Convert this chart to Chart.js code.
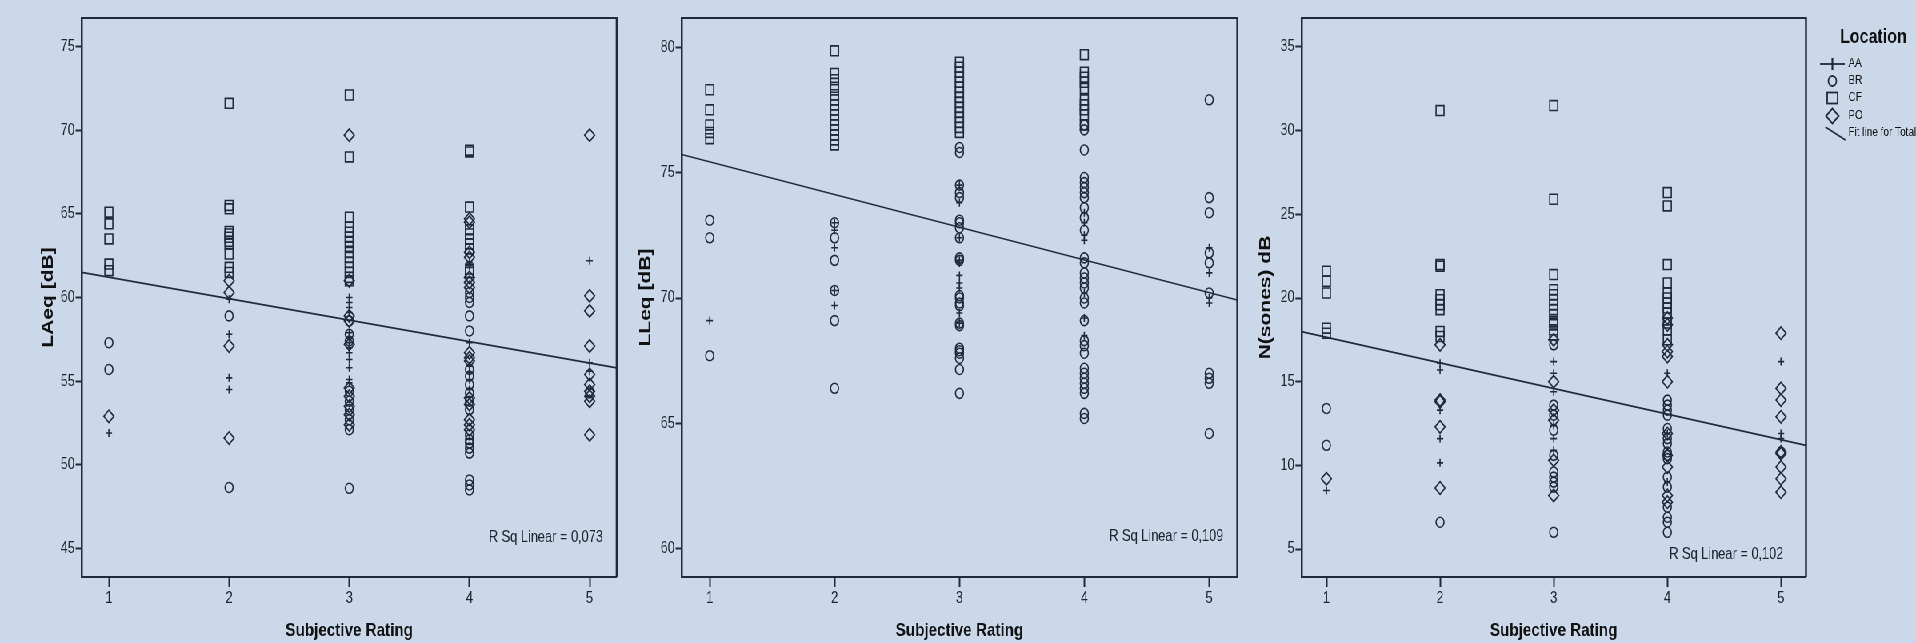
<!DOCTYPE html>
<html>
<head>
<meta charset="utf-8">
<title>Subjective Rating - LAeq / LLeq / N(sones)</title>
<script src="https://cdn.jsdelivr.net/npm/chart.js@4.4.1/dist/chart.umd.min.js"></script>
<style>
    html, body { margin: 0; padding: 0; overflow: hidden; width: 1916px; height: 643px; background: #cad8e9; }
    #wrap { position: absolute; left: 0; top: 0; width: 2395px; height: 643px; transform: scaleX(0.8); transform-origin: 0 0; }
    #wrap canvas { position: absolute; top: 0; }
</style>
</head>
<body>
<div id="wrap">
    <canvas id="chartLAeq"></canvas>
    <canvas id="chartLLeq"></canvas>
    <canvas id="chartN"></canvas>
</div>
<script>
// categories
var ratings = [1, 2, 3, 4, 5];
var locations = ['AA', 'BR', 'CF', 'PO'];

// LAeq [dB] - one list of values per rating (1..5)
var laeqAA = [[51.9], [59.9, 57.8, 55.2, 54.5], [60.0, 59.7, 59.4, 59.1, 57.9, 57.6, 57.3, 57.0, 56.7, 56.3, 55.8, 55.1, 54.9], [62.1, 61.9, 57.3, 55.9, 55.5, 55.1, 54.5], [62.2, 56.1, 55.6]];
var laeqBR = [[57.3, 55.7], [58.9, 48.65], [58.6, 57.8, 57.4, 54.4, 53.8, 53.3, 52.7, 52.1, 48.6], [60.3, 60.0, 59.7, 58.9, 58.0, 55.7, 55.3, 54.8, 54.3, 53.8, 53.3, 51.8, 51.5, 51.3, 51.0, 50.7, 49.1, 48.8, 48.5], [54.3]];
var laeqCF = [[65.1, 64.4, 63.5, 62.0, 61.6], [71.6, 65.5, 65.3, 63.95, 63.8, 63.6, 63.35, 63.2, 62.6, 61.8, 61.5], [72.1, 68.4, 64.8, 64.2, 63.9, 63.6, 63.35, 63.05, 62.7, 62.4, 62.1, 61.8, 61.5, 61.2, 61.0], [68.8, 68.7, 65.4, 64.05, 63.8, 63.5, 63.2, 62.9, 61.7, 61.5], []];
var laeqPO = [[52.9], [61.0, 60.3, 57.1, 51.6], [69.7, 61.0, 58.9, 58.6, 57.2, 54.6, 54.1, 53.5, 53.0, 52.4], [64.7, 64.5, 62.7, 62.4, 61.2, 60.9, 60.6, 56.7, 56.4, 56.2, 54.0, 53.6, 52.7, 52.4, 52.1], [69.7, 60.1, 59.2, 57.1, 55.4, 54.8, 54.4, 54.1, 53.8, 51.8]];
var laeqFit = [[0.773, 61.5], [5.225, 55.8]];
var laeqTicks = [45, 50, 55, 60, 65, 70, 75];

// LLeq [dB]
var lleqAA = [[69.1], [73.0, 72.7, 72.0, 70.3, 69.7], [74.5, 73.8, 72.4, 71.5, 71.4, 70.9, 70.6, 70.4, 69.4, 69.0], [73.4, 73.0, 72.5, 72.3, 70.2, 69.2, 68.5], [72.0, 71.0, 70.0, 69.8]];
var lleqBR = [[73.1, 72.4, 67.7], [73.0, 72.4, 71.5, 70.3, 69.1, 66.4], [76.0, 75.8, 74.5, 74.2, 74.0, 73.1, 73.0, 72.8, 72.4, 71.6, 71.5, 70.1, 70.0, 69.8, 69.7, 69.0, 68.9, 68.0, 67.9, 67.8, 67.6, 67.15, 66.2], [76.9, 76.7, 75.9, 74.8, 74.6, 74.4, 74.2, 74.0, 73.6, 73.2, 72.7, 71.6, 71.4, 71.0, 70.8, 70.6, 70.4, 70.0, 69.8, 69.1, 68.3, 68.1, 67.8, 67.2, 67.0, 66.8, 66.6, 66.4, 66.2, 65.4, 65.2], [77.9, 74.0, 73.4, 71.8, 71.4, 70.2, 67.0, 66.8, 66.6, 64.6]];
var lleqCF = [[78.3, 77.5, 76.9, 76.6, 76.35], [79.85, 78.95, 78.7, 78.4, 78.1, 77.9, 77.7, 77.5, 77.3, 77.1, 76.9, 76.7, 76.5, 76.3, 76.1], [79.4, 79.2, 79.0, 78.8, 78.6, 78.4, 78.2, 78.0, 77.8, 77.6, 77.4, 77.2, 77.0, 76.8, 76.6], [79.7, 79.0, 78.8, 78.6, 78.35, 77.9, 77.7, 77.5, 77.3, 76.9], []];
var lleqPO = [[], [], [], [], []];
var lleqFit = [[0.775, 75.72], [5.225, 69.92]];
var lleqTicks = [60, 65, 70, 75, 80];

// N(sones) dB
var nAA = [[8.5], [16.1, 15.7, 13.3, 11.6, 10.15], [16.2, 15.5, 14.4, 12.4, 11.6, 10.9], [15.5, 11.9, 9.0], [16.2, 11.9, 11.6]];
var nBR = [[13.4, 11.2], [6.6], [17.2, 13.6, 13.0, 12.1, 10.6, 9.6, 9.3, 9.0, 8.7, 6.0], [13.9, 13.6, 13.3, 13.0, 12.2, 11.6, 11.3, 10.8, 10.6, 10.4, 9.3, 8.7, 7.5, 6.9, 6.6, 6.0], [10.8]];
var nCF = [[21.6, 21.0, 20.3, 18.2, 17.9], [31.2, 22.0, 21.9, 20.2, 19.9, 19.6, 19.3, 18.0, 17.7], [31.5, 25.9, 21.4, 20.5, 20.2, 19.9, 19.6, 19.3, 19.0, 18.6, 18.5, 18.1, 17.8], [26.3, 25.5, 22.0, 20.9, 20.3, 20.0, 19.7, 19.4, 19.1, 18.5, 18.1, 17.5], []];
var nPO = [[9.2], [17.2, 13.9, 13.8, 12.3, 8.65], [17.5, 15.0, 13.3, 12.7, 10.3, 8.2], [18.8, 18.4, 17.2, 16.8, 16.5, 15.0, 11.9, 10.6, 9.9, 8.2, 7.8], [17.9, 14.6, 13.9, 12.9, 10.8, 10.7, 9.9, 9.2, 8.4]];
var nFit = [[0.78, 17.99], [5.22, 11.19]];
var nTicks = [5, 10, 15, 20, 25, 30, 35];

// the original export is squeezed horizontally, so the page is too
var SX = 0.8;
var PAGE_H = 643;
var PLOT_TOP = 18;
var PLOT_BOTTOM = 577;
var AXIS = '#1f2b3b';
var TXT = '#1e2530';
var FONT = "'Liberation Sans', Arial, Helvetica, sans-serif";

Chart.defaults.font.family = FONT;

var markers = [
    { style: 'cross', r: 4 },
    { style: 'circle', r: 5 },
    { style: 'rect', r: 7 },
    { style: 'rectRot', r: 6.3 }
];

function toPoints(values) {
    var pts = [];
    values.forEach(function (vals, i) {
        vals.forEach(function (v) {
            pts.push({ x: ratings[i], y: v });
        });
    });
    return pts;
}

function drawLegend(ctx, geo) {
    var cx = function (sx) { return (sx - geo.left) / SX; };
    var sym = cx(1832);
    var tx = cx(1848);
    var rows = [64, 81, 98, 116, 133];

    ctx.fillStyle = '#111';
    ctx.font = 'bold 20px ' + FONT;
    ctx.textAlign = 'center';
    ctx.textBaseline = 'middle';
    ctx.fillText('Location', cx(1873), 37);

    ctx.strokeStyle = AXIS;
    ctx.lineWidth = 1.8;
    // AA
    ctx.beginPath();
    ctx.moveTo(sym - 15.5, rows[0]); ctx.lineTo(sym + 15.5, rows[0]);
    ctx.stroke();
    ctx.lineWidth = 2.2;
    ctx.beginPath();
    ctx.moveTo(sym, rows[0] - 6); ctx.lineTo(sym, rows[0] + 6);
    ctx.stroke();
    ctx.lineWidth = 1.8;
    // BR
    ctx.beginPath();
    ctx.ellipse(sym, rows[1], 5, 5, 0, 0, Math.PI * 2);
    ctx.stroke();
    // CF
    ctx.strokeRect(sym - 6.5, rows[2] - 5.5, 13, 11);
    // PO
    ctx.beginPath();
    ctx.moveTo(sym - 8, rows[3]); ctx.lineTo(sym, rows[3] - 7.5);
    ctx.lineTo(sym + 8, rows[3]); ctx.lineTo(sym, rows[3] + 7.5);
    ctx.closePath();
    ctx.stroke();
    // fit line
    ctx.beginPath();
    ctx.moveTo(cx(1825), 127); ctx.lineTo(cx(1845), 140);
    ctx.stroke();

    ctx.font = '12.5px ' + FONT;
    ctx.textAlign = 'left';
    var names = locations.concat(['Fit line for Total']);
    names.forEach(function (name, i) {
        ctx.fillText(name, tx, rows[i]);
    });
}

function makePanel(canvasId, geo, yTitle, series, fit, ticks, yRange, rsq, withLegend) {
    var canvas = document.getElementById(canvasId);
    canvas.width = Math.round(geo.width / SX);
    canvas.height = PAGE_H;
    canvas.style.left = (geo.left / SX) + 'px';

    var datasets = [];
    series.forEach(function (values, i) {
        datasets.push({
            type: 'scatter',
            label: locations[i],
            data: toPoints(values),
            pointStyle: markers[i].style,
            pointRadius: markers[i].r,
            pointHoverRadius: markers[i].r,
            pointBackgroundColor: 'rgba(0,0,0,0)',
            pointBorderColor: AXIS,
            pointBorderWidth: 1.6
        });
    });
    datasets.push({
        type: 'line',
        label: 'Fit line for Total',
        data: fit.map(function (p) { return { x: p[0], y: p[1] }; }),
        borderColor: AXIS,
        borderWidth: 1.7,
        pointRadius: 0,
        fill: false
    });

    var framePlugin = {
        id: 'frame' + canvasId,
        afterDraw: function (chart) {
            var ctx = chart.ctx;
            var a = chart.chartArea;
            ctx.save();
            ctx.strokeStyle = AXIS;
            ctx.lineWidth = 2;
            ctx.beginPath();
            ctx.moveTo(a.left, a.top); ctx.lineTo(a.right, a.top);
            ctx.stroke();
            ctx.lineWidth = 2.5;
            ctx.beginPath();
            ctx.moveTo(a.right, a.top - 1); ctx.lineTo(a.right, a.bottom);
            ctx.stroke();

            ctx.fillStyle = TXT;
            ctx.font = '16px ' + FONT;
            ctx.textAlign = 'right';
            ctx.textBaseline = 'middle';
            ctx.fillText(rsq, (geo.rsqX - geo.left) / SX, geo.rsqY);

            if (withLegend) drawLegend(ctx, geo);
            ctx.restore();
        }
    };

    return new Chart(canvas.getContext('2d'), {
        type: 'scatter',
        data: { datasets: datasets },
        plugins: [framePlugin],
        options: {
            responsive: false,
            animation: false,
            events: [],
            layout: {
                padding: { left: 0, top: PLOT_TOP, bottom: 0, right: (geo.left + geo.width - geo.plotRight) / SX }
            },
            plugins: {
                legend: { display: false },
                tooltip: { enabled: false }
            },
            scales: {
                x: {
                    type: 'linear',
                    min: geo.xMin,
                    max: geo.xMax,
                    afterBuildTicks: function (scale) {
                        scale.ticks = ratings.map(function (v) { return { value: v }; });
                    },
                    afterFit: function (scale) { scale.height = PAGE_H - PLOT_BOTTOM; },
                    grid: { drawOnChartArea: false, drawTicks: true, tickLength: 10, tickWidth: 2, tickColor: AXIS },
                    border: { display: true, color: AXIS, width: 2 },
                    ticks: { padding: 2.4, color: TXT, font: { size: 16 } },
                    title: {
                        display: true,
                        text: 'Subjective Rating',
                        color: '#111',
                        font: { size: 19, weight: 'bold' },
                        padding: { top: 0, bottom: 0.6 }
                    }
                },
                y: {
                    type: 'linear',
                    min: yRange[0],
                    max: yRange[1],
                    afterBuildTicks: function (scale) {
                        scale.ticks = ticks.map(function (v) { return { value: v }; });
                    },
                    afterFit: function (scale) { scale.width = (geo.plotLeft - geo.left) / SX; },
                    grid: { drawOnChartArea: false, drawTicks: true, tickLength: 6 / SX, tickWidth: 2, tickColor: AXIS },
                    border: { display: true, color: AXIS, width: 2.5 },
                    ticks: { padding: 1, color: TXT, font: { size: 16 } },
                    title: {
                        display: true,
                        text: yTitle,
                        color: '#111',
                        font: { size: 21, weight: 'bold' },
                        padding: { top: (geo.yTitleX - geo.left) / SX - 12.6, bottom: 0 }
                    }
                }
            }
        }
    });
}

makePanel('chartLAeq',
    { left: 0, width: 630, plotLeft: 81.6, plotRight: 616.3, yTitleX: 48, xMin: 0.773, xMax: 5.225, rsqX: 603, rsqY: 538 },
    'LAeq [dB]', [laeqAA, laeqBR, laeqCF, laeqPO], laeqFit, laeqTicks, [43.3, 76.7], 'R Sq Linear = 0,073', false);

makePanel('chartLLeq',
    { left: 630, width: 620, plotLeft: 681.2, plotRight: 1236.9, yTitleX: 645, xMin: 0.775, xMax: 5.225, rsqX: 1223, rsqY: 537 },
    'LLeq [dB]', [lleqAA, lleqBR, lleqCF, lleqPO], lleqFit, lleqTicks, [58.88, 81.16], 'R Sq Linear = 0,109', false);

makePanel('chartN',
    { left: 1250, width: 666, plotLeft: 1301, plotRight: 1805.2, yTitleX: 1265, xMin: 0.78, xMax: 5.22, rsqX: 1783, rsqY: 555 },
    'N(sones) dB', [nAA, nBR, nCF, nPO], nFit, nTicks, [3.33, 36.73], 'R Sq Linear = 0,102', true);
</script>
</body>
</html>
